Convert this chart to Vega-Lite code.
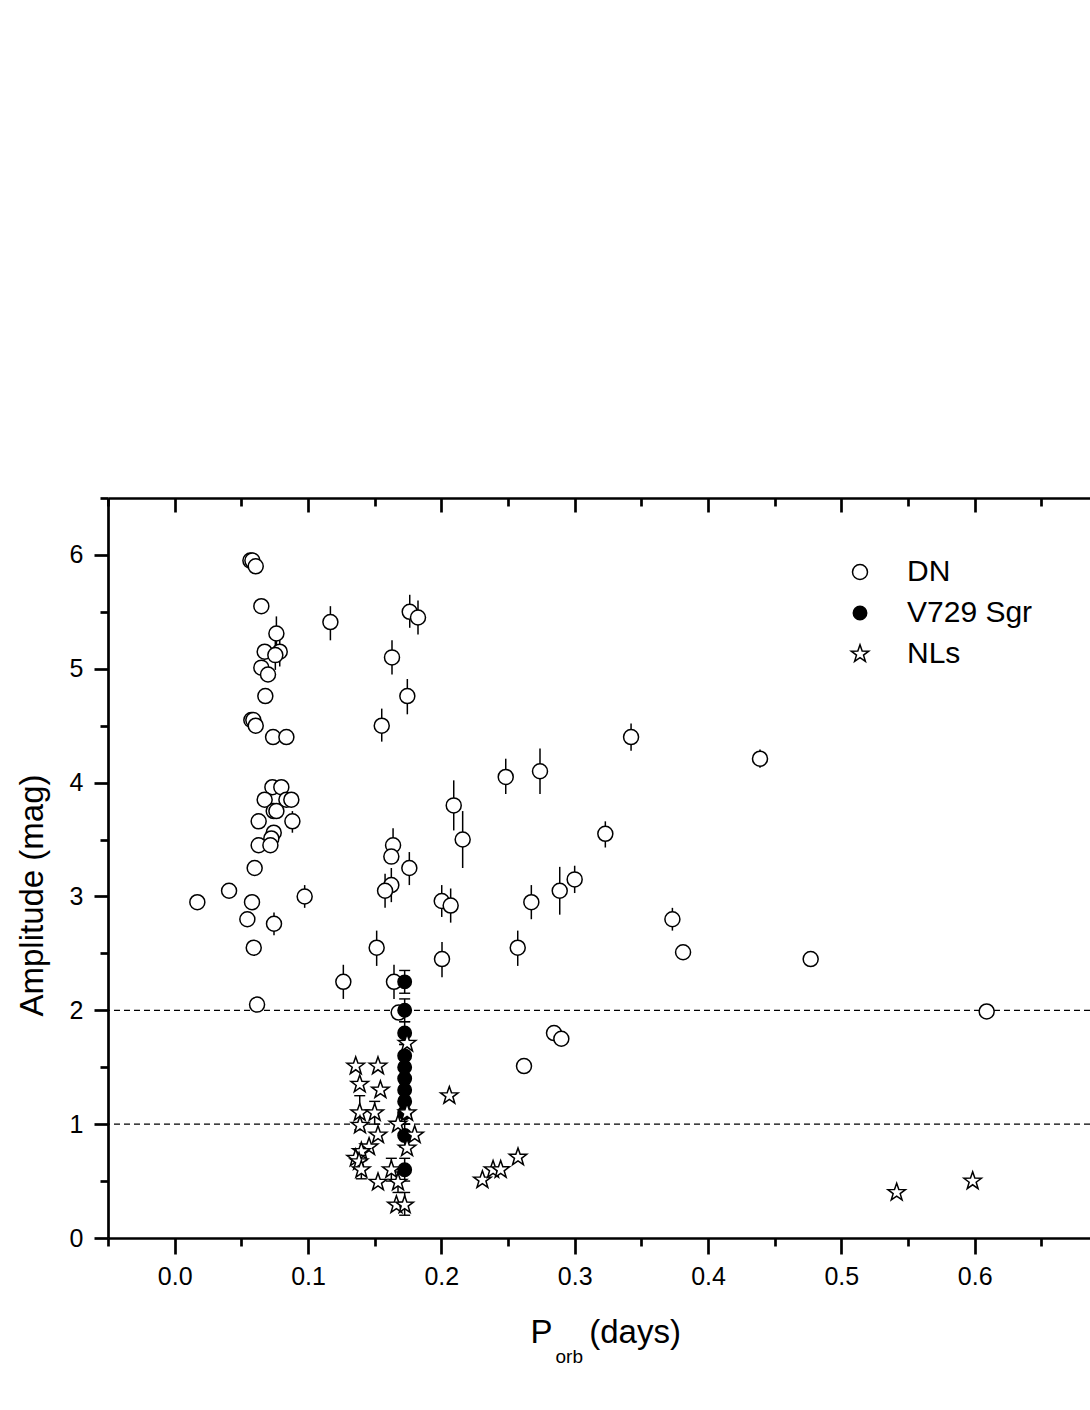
{
  "$schema": "https://vega.github.io/schema/vega-lite/v6.json",
  "width": 982,
  "height": 740,
  "autosize": {"type": "none"},
  "padding": {"left": 108, "top": 498, "right": 0, "bottom": 172},
  "background": "white",
  "config": {
    "view": {"stroke": null},
    "axis": {
      "labelFont": "Liberation Sans",
      "titleFont": "Liberation Sans",
      "labelColor": "black",
      "titleColor": "black",
      "domainColor": "black",
      "tickColor": "black",
      "domainWidth": 2.7,
      "tickWidth": 2.7,
      "grid": false,
      "titleFontWeight": "normal",
      "labelFlush": false,
      "labelOverlap": false
    }
  },
  "data": {
    "values": [
      {"g": "DN", "p": 0.017, "a": 2.95},
      {"g": "DN", "p": 0.0408, "a": 3.05},
      {"g": "DN", "p": 0.0545, "a": 2.80},
      {"g": "DN", "p": 0.058, "a": 2.95},
      {"g": "DN", "p": 0.0568, "a": 5.95},
      {"g": "DN", "p": 0.0583, "a": 5.95},
      {"g": "DN", "p": 0.0608, "a": 5.90},
      {"g": "DN", "p": 0.065, "a": 5.55},
      {"g": "DN", "p": 0.0763, "a": 5.31, "lo": 5.16, "hi": 5.46},
      {"g": "DN", "p": 0.0675, "a": 5.15},
      {"g": "DN", "p": 0.0788, "a": 5.15, "lo": 5.02, "hi": 5.28},
      {"g": "DN", "p": 0.0755, "a": 5.12, "lo": 4.99, "hi": 5.30},
      {"g": "DN", "p": 0.065, "a": 5.01},
      {"g": "DN", "p": 0.070, "a": 4.95},
      {"g": "DN", "p": 0.068, "a": 4.76},
      {"g": "DN", "p": 0.0575, "a": 4.55},
      {"g": "DN", "p": 0.059, "a": 4.55},
      {"g": "DN", "p": 0.0608, "a": 4.50},
      {"g": "DN", "p": 0.0738, "a": 4.40},
      {"g": "DN", "p": 0.0838, "a": 4.40},
      {"g": "DN", "p": 0.0733, "a": 3.96},
      {"g": "DN", "p": 0.080, "a": 3.96},
      {"g": "DN", "p": 0.0675, "a": 3.85},
      {"g": "DN", "p": 0.0838, "a": 3.85},
      {"g": "DN", "p": 0.0875, "a": 3.85},
      {"g": "DN", "p": 0.0743, "a": 3.75},
      {"g": "DN", "p": 0.0763, "a": 3.75},
      {"g": "DN", "p": 0.063, "a": 3.66},
      {"g": "DN", "p": 0.0883, "a": 3.66, "lo": 3.56, "hi": 3.75},
      {"g": "DN", "p": 0.0743, "a": 3.56},
      {"g": "DN", "p": 0.0725, "a": 3.51},
      {"g": "DN", "p": 0.063, "a": 3.45},
      {"g": "DN", "p": 0.0718, "a": 3.45},
      {"g": "DN", "p": 0.060, "a": 3.25},
      {"g": "DN", "p": 0.0745, "a": 2.76, "lo": 2.66, "hi": 2.86},
      {"g": "DN", "p": 0.0975, "a": 3.00, "lo": 2.90, "hi": 3.10},
      {"g": "DN", "p": 0.0593, "a": 2.55},
      {"g": "DN", "p": 0.0618, "a": 2.05},
      {"g": "DN", "p": 0.1168, "a": 5.41, "lo": 5.25, "hi": 5.55},
      {"g": "DN", "p": 0.1763, "a": 5.50, "lo": 5.36, "hi": 5.65},
      {"g": "DN", "p": 0.1825, "a": 5.45, "lo": 5.30, "hi": 5.60},
      {"g": "DN", "p": 0.163, "a": 5.10, "lo": 4.95, "hi": 5.25},
      {"g": "DN", "p": 0.1745, "a": 4.76, "lo": 4.60, "hi": 4.91},
      {"g": "DN", "p": 0.1553, "a": 4.50, "lo": 4.36, "hi": 4.65},
      {"g": "DN", "p": 0.2093, "a": 3.80, "lo": 3.58, "hi": 4.02},
      {"g": "DN", "p": 0.216, "a": 3.50, "lo": 3.25, "hi": 3.75},
      {"g": "DN", "p": 0.1638, "a": 3.45, "lo": 3.30, "hi": 3.60},
      {"g": "DN", "p": 0.1625, "a": 3.35},
      {"g": "DN", "p": 0.176, "a": 3.25, "lo": 3.10, "hi": 3.39},
      {"g": "DN", "p": 0.1625, "a": 3.10, "lo": 2.95, "hi": 3.25},
      {"g": "DN", "p": 0.1578, "a": 3.05, "lo": 2.90, "hi": 3.20},
      {"g": "DN", "p": 0.2003, "a": 2.96, "lo": 2.82, "hi": 3.10},
      {"g": "DN", "p": 0.207, "a": 2.92, "lo": 2.77, "hi": 3.07},
      {"g": "DN", "p": 0.1515, "a": 2.55, "lo": 2.39, "hi": 2.70},
      {"g": "DN", "p": 0.2005, "a": 2.45, "lo": 2.29, "hi": 2.60},
      {"g": "DN", "p": 0.1265, "a": 2.25, "lo": 2.10, "hi": 2.40},
      {"g": "DN", "p": 0.1645, "a": 2.25, "lo": 2.10, "hi": 2.40},
      {"g": "DN", "p": 0.168, "a": 1.98},
      {"g": "DN", "p": 0.3423, "a": 4.40, "lo": 4.28, "hi": 4.52},
      {"g": "DN", "p": 0.2483, "a": 4.05, "lo": 3.90, "hi": 4.21},
      {"g": "DN", "p": 0.274, "a": 4.10, "lo": 3.90, "hi": 4.30},
      {"g": "DN", "p": 0.323, "a": 3.55, "lo": 3.43, "hi": 3.66},
      {"g": "DN", "p": 0.300, "a": 3.15, "lo": 3.03, "hi": 3.27},
      {"g": "DN", "p": 0.2888, "a": 3.05, "lo": 2.84, "hi": 3.26},
      {"g": "DN", "p": 0.2675, "a": 2.95, "lo": 2.80, "hi": 3.10},
      {"g": "DN", "p": 0.2573, "a": 2.55, "lo": 2.39, "hi": 2.70},
      {"g": "DN", "p": 0.3733, "a": 2.80, "lo": 2.70, "hi": 2.90},
      {"g": "DN", "p": 0.3813, "a": 2.51},
      {"g": "DN", "p": 0.2845, "a": 1.80},
      {"g": "DN", "p": 0.29, "a": 1.75},
      {"g": "DN", "p": 0.262, "a": 1.51},
      {"g": "DN", "p": 0.439, "a": 4.21, "lo": 4.13, "hi": 4.29},
      {"g": "DN", "p": 0.477, "a": 2.45},
      {"g": "DN", "p": 0.609, "a": 1.99},
      {"g": "V729 Sgr", "p": 0.1725, "a": 2.25, "lo": 2.15, "hi": 2.35},
      {"g": "V729 Sgr", "p": 0.1725, "a": 2.00, "lo": 1.90, "hi": 2.10},
      {"g": "V729 Sgr", "p": 0.1725, "a": 1.80, "lo": 1.70, "hi": 1.90},
      {"g": "V729 Sgr", "p": 0.1725, "a": 1.60, "lo": 1.50, "hi": 1.70},
      {"g": "V729 Sgr", "p": 0.1725, "a": 1.50, "lo": 1.40, "hi": 1.60},
      {"g": "V729 Sgr", "p": 0.1725, "a": 1.40, "lo": 1.30, "hi": 1.50},
      {"g": "V729 Sgr", "p": 0.1725, "a": 1.30, "lo": 1.20, "hi": 1.40},
      {"g": "V729 Sgr", "p": 0.1725, "a": 1.20, "lo": 1.10, "hi": 1.30},
      {"g": "V729 Sgr", "p": 0.1725, "a": 1.10, "lo": 1.00, "hi": 1.20},
      {"g": "V729 Sgr", "p": 0.1725, "a": 0.90, "lo": 0.80, "hi": 1.00},
      {"g": "V729 Sgr", "p": 0.1725, "a": 0.60, "lo": 0.50, "hi": 0.70},
      {"g": "NLs", "p": 0.1358, "a": 1.51},
      {"g": "NLs", "p": 0.1525, "a": 1.51},
      {"g": "NLs", "p": 0.1388, "a": 1.35},
      {"g": "NLs", "p": 0.1543, "a": 1.30},
      {"g": "NLs", "p": 0.206, "a": 1.25},
      {"g": "NLs", "p": 0.1743, "a": 1.71},
      {"g": "NLs", "p": 0.1388, "a": 1.10, "lo": 0.95, "hi": 1.25},
      {"g": "NLs", "p": 0.150, "a": 1.10, "lo": 1.00, "hi": 1.20},
      {"g": "NLs", "p": 0.1743, "a": 1.10},
      {"g": "NLs", "p": 0.139, "a": 0.99},
      {"g": "NLs", "p": 0.1675, "a": 1.00},
      {"g": "NLs", "p": 0.1525, "a": 0.905},
      {"g": "NLs", "p": 0.180, "a": 0.905},
      {"g": "NLs", "p": 0.1458, "a": 0.80},
      {"g": "NLs", "p": 0.1743, "a": 0.79},
      {"g": "NLs", "p": 0.140, "a": 0.76},
      {"g": "NLs", "p": 0.1358, "a": 0.70},
      {"g": "NLs", "p": 0.1383, "a": 0.67},
      {"g": "NLs", "p": 0.140, "a": 0.60, "lo": 0.52, "hi": 0.68},
      {"g": "NLs", "p": 0.1625, "a": 0.60, "lo": 0.50, "hi": 0.70},
      {"g": "NLs", "p": 0.1525, "a": 0.49},
      {"g": "NLs", "p": 0.1675, "a": 0.49, "lo": 0.40, "hi": 0.58},
      {"g": "NLs", "p": 0.1663, "a": 0.29},
      {"g": "NLs", "p": 0.1725, "a": 0.29, "lo": 0.20, "hi": 0.40},
      {"g": "NLs", "p": 0.2308, "a": 0.51},
      {"g": "NLs", "p": 0.2388, "a": 0.60},
      {"g": "NLs", "p": 0.2445, "a": 0.60},
      {"g": "NLs", "p": 0.2575, "a": 0.71},
      {"g": "NLs", "p": 0.5415, "a": 0.40},
      {"g": "NLs", "p": 0.5985, "a": 0.50}
    ]
  },
  "resolve": {"axis": {"x": "independent", "y": "independent"}},
  "layer": [
    {
      "data": {"values": [{"level": 1}, {"level": 2}]},
      "mark": {"type": "rule", "stroke": "black", "strokeWidth": 1.2, "strokeDash": [6, 4]},
      "encoding": {
        "y": {"field": "level", "type": "quantitative", "scale": {"domain": [0, 6.5], "nice": false, "zero": false}, "axis": null}
      }
    },
    {
      "transform": [{"filter": "isValid(datum.lo)"}],
      "mark": {"type": "rule", "stroke": "black", "strokeWidth": 1.5},
      "encoding": {
        "x": {
          "field": "p", "type": "quantitative",
          "scale": {"domain": [-0.05, 0.6865], "nice": false, "zero": false},
          "axis": {
            "orient": "top",
            "ticks": false,
            "labels": false,
            "title": null
          }
        },
        "y": {"field": "lo", "type": "quantitative", "scale": {"domain": [0, 6.5], "nice": false, "zero": false}, "axis": null},
        "y2": {"field": "hi"}
      }
    },
    {
      "transform": [
        {"filter": "isValid(datum.lo) && datum.g != 'DN'"},
        {"fold": ["lo", "hi"], "as": ["bound", "yv"]}
      ],
      "mark": {"type": "point", "shape": "stroke", "size": 121, "stroke": "black", "strokeWidth": 1.4, "opacity": 1},
      "encoding": {
        "x": {
          "field": "p", "type": "quantitative",
          "scale": {"domain": [-0.05, 0.6865], "nice": false, "zero": false},
          "axis": {
            "orient": "top",
            "offset": -14,
            "domain": false,
            "values": [-0.05, 0, 0.05, 0.1, 0.15, 0.2, 0.25, 0.3, 0.35, 0.4, 0.45, 0.5, 0.55, 0.6, 0.65],
            "labels": false,
            "tickSize": 14,
            "tickDash": {"condition": {"test": "round(datum.value*20) % 2 != 0", "value": [0, 6, 8, 100]}, "value": []},
            "title": "orb",
            "titleFontSize": 19,
            "titleAlign": "left",
            "titleBaseline": "alphabetic",
            "titleAngle": 0,
            "titleX": 447,
            "titleY": 850
          }
        },
        "y": {"field": "yv", "type": "quantitative", "scale": {"domain": [0, 6.5], "nice": false, "zero": false}, "axis": null}
      }
    },
    {
      "mark": {"type": "point", "strokeWidth": 1.5, "opacity": 1, "fillOpacity": 1},
      "encoding": {
        "x": {
          "field": "p", "type": "quantitative",
          "scale": {"domain": [-0.05, 0.6865], "nice": false, "zero": false},
          "axis": {
            "orient": "bottom",
            "values": [-0.05, 0, 0.05, 0.1, 0.15, 0.2, 0.25, 0.3, 0.35, 0.4, 0.45, 0.5, 0.55, 0.6, 0.65],
            "labelExpr": "round(datum.value*20) % 2 == 0 ? format(datum.value, '.1f') : ''",
            "labelFontSize": 25,
            "labelPadding": 10,
            "tickSize": 16,
            "tickDash": {"condition": {"test": "round(datum.value*20) % 2 != 0", "value": [8, 100]}, "value": []},
            "title": "P\u00a0\u00a0\u00a0\u00a0(days)",
            "titleFontSize": 33,
            "titleAlign": "left",
            "titleBaseline": "alphabetic",
            "titleX": 422,
            "titleY": 104
          }
        },
        "y": {
          "field": "a", "type": "quantitative",
          "scale": {"domain": [0, 6.5], "nice": false, "zero": false},
          "axis": {
            "orient": "left",
            "values": [0, 0.5, 1, 1.5, 2, 2.5, 3, 3.5, 4, 4.5, 5, 5.5, 6, 6.5],
            "labelExpr": "datum.value % 1 == 0 ? format(datum.value, 'd') : ''",
            "labelFontSize": 25,
            "labelPadding": 11,
            "tickSize": 14,
            "tickDash": {"condition": {"test": "datum.value % 1 != 0", "value": [8, 100]}, "value": []},
            "title": "Amplitude (mag)",
            "titleFontSize": 33,
            "titleAngle": -90,
            "titleAlign": "center",
            "titleBaseline": "alphabetic",
            "titleX": -66,
            "titleY": 397
          }
        },
        "shape": {
          "field": "g", "type": "nominal",
          "scale": {
            "domain": ["DN", "V729 Sgr", "NLs"],
            "range": ["circle", "circle", "M0,-1L0.2351,-0.3236L0.9511,-0.309L0.3804,0.1236L0.5878,0.809L0,0.4L-0.5878,0.809L-0.3804,0.1236L-0.9511,-0.309L-0.2351,-0.3236Z"]
          },
          "legend": {"title": null, "orient": "none", "legendX": 737, "legendY": 59, "padding": 0, "labelFont": "Liberation Sans", "labelFontSize": 30, "labelColor": "black", "labelOffset": 32, "rowPadding": 11, "symbolStrokeWidth": 1.5}
        },
        "fill": {
          "field": "g", "type": "nominal",
          "scale": {"domain": ["DN", "V729 Sgr", "NLs"], "range": ["white", "black", "white"]},
          "legend": {"title": null, "orient": "none", "legendX": 737, "legendY": 59, "padding": 0, "labelFont": "Liberation Sans", "labelFontSize": 30, "labelColor": "black", "labelOffset": 32, "rowPadding": 11, "symbolStrokeWidth": 1.5}
        },
        "stroke": {
          "field": "g", "type": "nominal",
          "scale": {"domain": ["DN", "V729 Sgr", "NLs"], "range": ["black", "black", "black"]},
          "legend": {"title": null, "orient": "none", "legendX": 737, "legendY": 59, "padding": 0, "labelFont": "Liberation Sans", "labelFontSize": 30, "labelColor": "black", "labelOffset": 32, "rowPadding": 11, "symbolStrokeWidth": 1.5}
        },
        "size": {
          "field": "g", "type": "nominal",
          "scale": {"type": "ordinal", "domain": ["DN", "V729 Sgr", "NLs"], "range": [225, 180, 340]},
          "legend": {"title": null, "orient": "none", "legendX": 737, "legendY": 59, "padding": 0, "labelFont": "Liberation Sans", "labelFontSize": 30, "labelColor": "black", "labelOffset": 32, "rowPadding": 11, "symbolStrokeWidth": 1.5}
        }
      }
    }
  ]
}
